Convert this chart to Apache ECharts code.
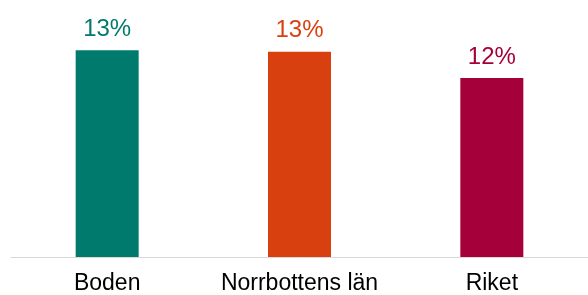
<!DOCTYPE html>
<html>
<head>
    <meta charset="utf-8">
    <title>Andel</title>
    <script src="https://cdn.jsdelivr.net/npm/echarts@6/dist/echarts.min.js"></script>
</head>
<style>
  body { margin: 0; background: #fff; }
</style>
<body>
    <div id="main" style="width: 588px;height:295px;"></div>
    <script type="text/javascript">
    var categories = ['Boden', 'Norrbottens län', 'Riket'];
    var values = [13.4, 13.3, 11.6];
    var colors = ['#007A6C', '#D9400F', '#A6003A'];

    var myChart = echarts.init(document.getElementById('main'));

    var data = values.map(function (v, i) {
        return {
            value: v,
            itemStyle: { color: colors[i] },
            label: { color: colors[i] }
        };
    });

    var option = {
        animation: false,
        grid: { left: 11, width: 583, top: 41, bottom: 35 },
        xAxis: {
            type: 'category',
            data: categories,
            axisLine: { lineStyle: { color: '#d9d9d9', width: 1 } },
            axisTick: { show: false },
            axisLabel: {
                interval: 0,
                hideOverlap: false,
                color: '#000',
                fontSize: 23,
                fontFamily: 'Liberation Sans',
                margin: 15
            }
        },
        yAxis: {
            type: 'value',
            min: 0,
            max: 14,
            show: false,
            splitLine: { show: false }
        },
        series: [{
            type: 'bar',
            barWidth: 63,
            data: data,
            label: {
                show: true,
                position: 'top',
                distance: 9,
                fontSize: 24,
                fontFamily: 'Liberation Sans',
                formatter: function (p) { return Math.round(p.value) + '%'; }
            }
        }]
    };
    myChart.setOption(option);
    </script>
</body>
</html>
